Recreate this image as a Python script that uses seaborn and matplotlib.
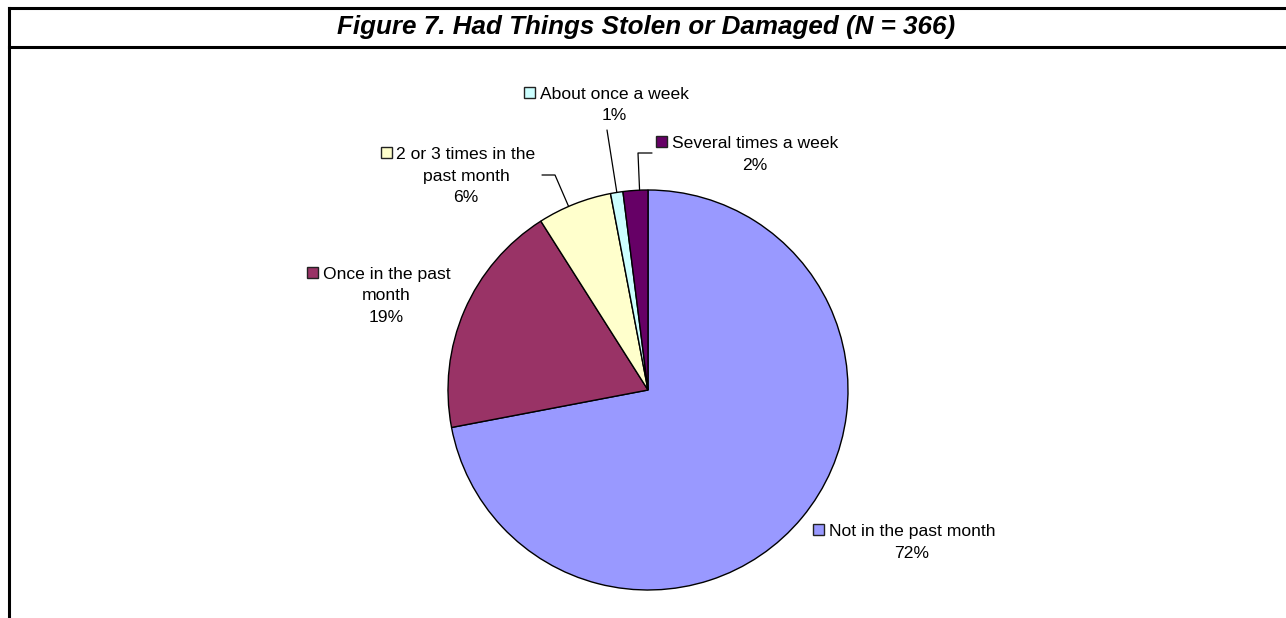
import matplotlib
matplotlib.use("Agg")
import matplotlib.pyplot as plt
from matplotlib.patches import Rectangle
import numpy as np
import seaborn as sns

# ---- data -------------------------------------------------------------
title = "Figure 7. Had Things Stolen or Damaged (N = 366)"
categories = [
    "Not in the past month",
    "Once in the past month",
    "2 or 3 times in the past month",
    "About once a week",
    "Several times a week",
]
percentages = [72, 19, 6, 1, 2]
slice_colors = ["#9999FF", "#993366", "#FFFFCC", "#CCFFFF", "#660066"]
# how each category name wraps inside its label
label_lines = [
    ["Not in the past month"],
    ["Once in the past", "month"],
    ["2 or 3 times in the", "past month"],
    ["About once a week"],
    ["Several times a week"],
]

# ---- layout (pixel coordinates, y downwards) --------------------------
W, H = 1286, 618
CX, CY, R = 648, 390, 200
label_pos = [(912, 530), (386.5, 273), (466, 153), (614, 93), (755, 142)]
line_step = 21.5
# leader lines: (label-side start, knee) or None
leaders = [None, None, ((542, 175), (555, 175)), ((607, 130), (607, 130)),
           ((652, 153), (638, 153))]

sns.set_theme(style="white")
plt.rcParams["font.family"] = ["Liberation Sans", "DejaVu Sans"]

fig = plt.figure(figsize=(W / 100, H / 100), dpi=100)
fig.patch.set_facecolor("white")

# pie axes, square box centred on the pie
pad = 1.04
ax_pie = fig.add_axes([(CX - R * pad) / W, (H - CY - R * pad) / H,
                       2 * R * pad / W, 2 * R * pad / H])
palette = sns.color_palette(slice_colors)
wedges, _ = ax_pie.pie(percentages, colors=palette, startangle=90,
                       counterclock=False, radius=1,
                       wedgeprops=dict(edgecolor="black", linewidth=1.0))
ax_pie.set_xlim(-pad, pad)
ax_pie.set_ylim(-pad, pad)
ax_pie.set_aspect("equal")
ax_pie.axis("off")

# overlay axes in pixel space for frame, title and labels
ax = fig.add_axes([0, 0, 1, 1], zorder=5)
ax.set_xlim(0, W)
ax.set_ylim(H, 0)
ax.patch.set_alpha(0)
ax.axis("off")


def pie_to_px(x, y):
    disp = ax_pie.transData.transform((x, y))
    return ax.transData.inverted().transform(disp)


center_px = pie_to_px(0, 0)
radius_px = pie_to_px(1, 0)[0] - center_px[0]

# frame around the figure and title box
lw = 2.2
ax.plot([9, W], [8, 8], color="black", lw=lw, solid_capstyle="projecting")
ax.plot([9, W], [47, 47], color="black", lw=lw, solid_capstyle="projecting")
ax.plot([9, 9], [8, H], color="black", lw=lw, solid_capstyle="projecting")

ax.text(646, 34, title, ha="center", va="baseline", fontsize=18.7,
        fontweight="bold", fontstyle="italic", color="black")

# wedge angle ranges, measured clockwise from 12 o'clock (degrees)
cum = np.concatenate([[0], np.cumsum(percentages)]) / np.sum(percentages) * 360.0

fs = 12.6
fig.canvas.draw()
renderer = fig.canvas.get_renderer()
for i, (lines, pct) in enumerate(zip(label_lines, percentages)):
    lx, ly = label_pos[i]
    rows = lines + [f"{pct}%"]
    first = None
    for k, row in enumerate(rows):
        t = ax.text(lx, ly + k * line_step + 6, row, ha="center",
                    va="baseline", fontsize=fs, color="black")
        if k == 0:
            first = t
    bb = first.get_window_extent(renderer=renderer)
    x0 = ax.transData.inverted().transform((bb.x0, bb.y0))[0]
    sq = 11
    ax.add_patch(Rectangle((x0 - sq - 4.5, ly - sq / 2 - 0.5), sq, sq,
                           facecolor=palette[i], edgecolor="#222222",
                           lw=1.0, zorder=6))

    if leaders[i] is not None:
        start, knee = leaders[i]
        # nearest point on the wedge's arc to the knee
        dx, dy = knee[0] - center_px[0], knee[1] - center_px[1]
        ang = np.degrees(np.arctan2(dx, -dy)) % 360
        ang = np.clip(ang, cum[i], cum[i + 1])
        ex = center_px[0] + radius_px * np.sin(np.radians(ang))
        ey = center_px[1] - radius_px * np.cos(np.radians(ang))
        ax.plot([start[0], knee[0], ex], [start[1], knee[1], ey],
                color="black", lw=0.9)

fig.savefig("out.png", dpi=100, facecolor="white")
